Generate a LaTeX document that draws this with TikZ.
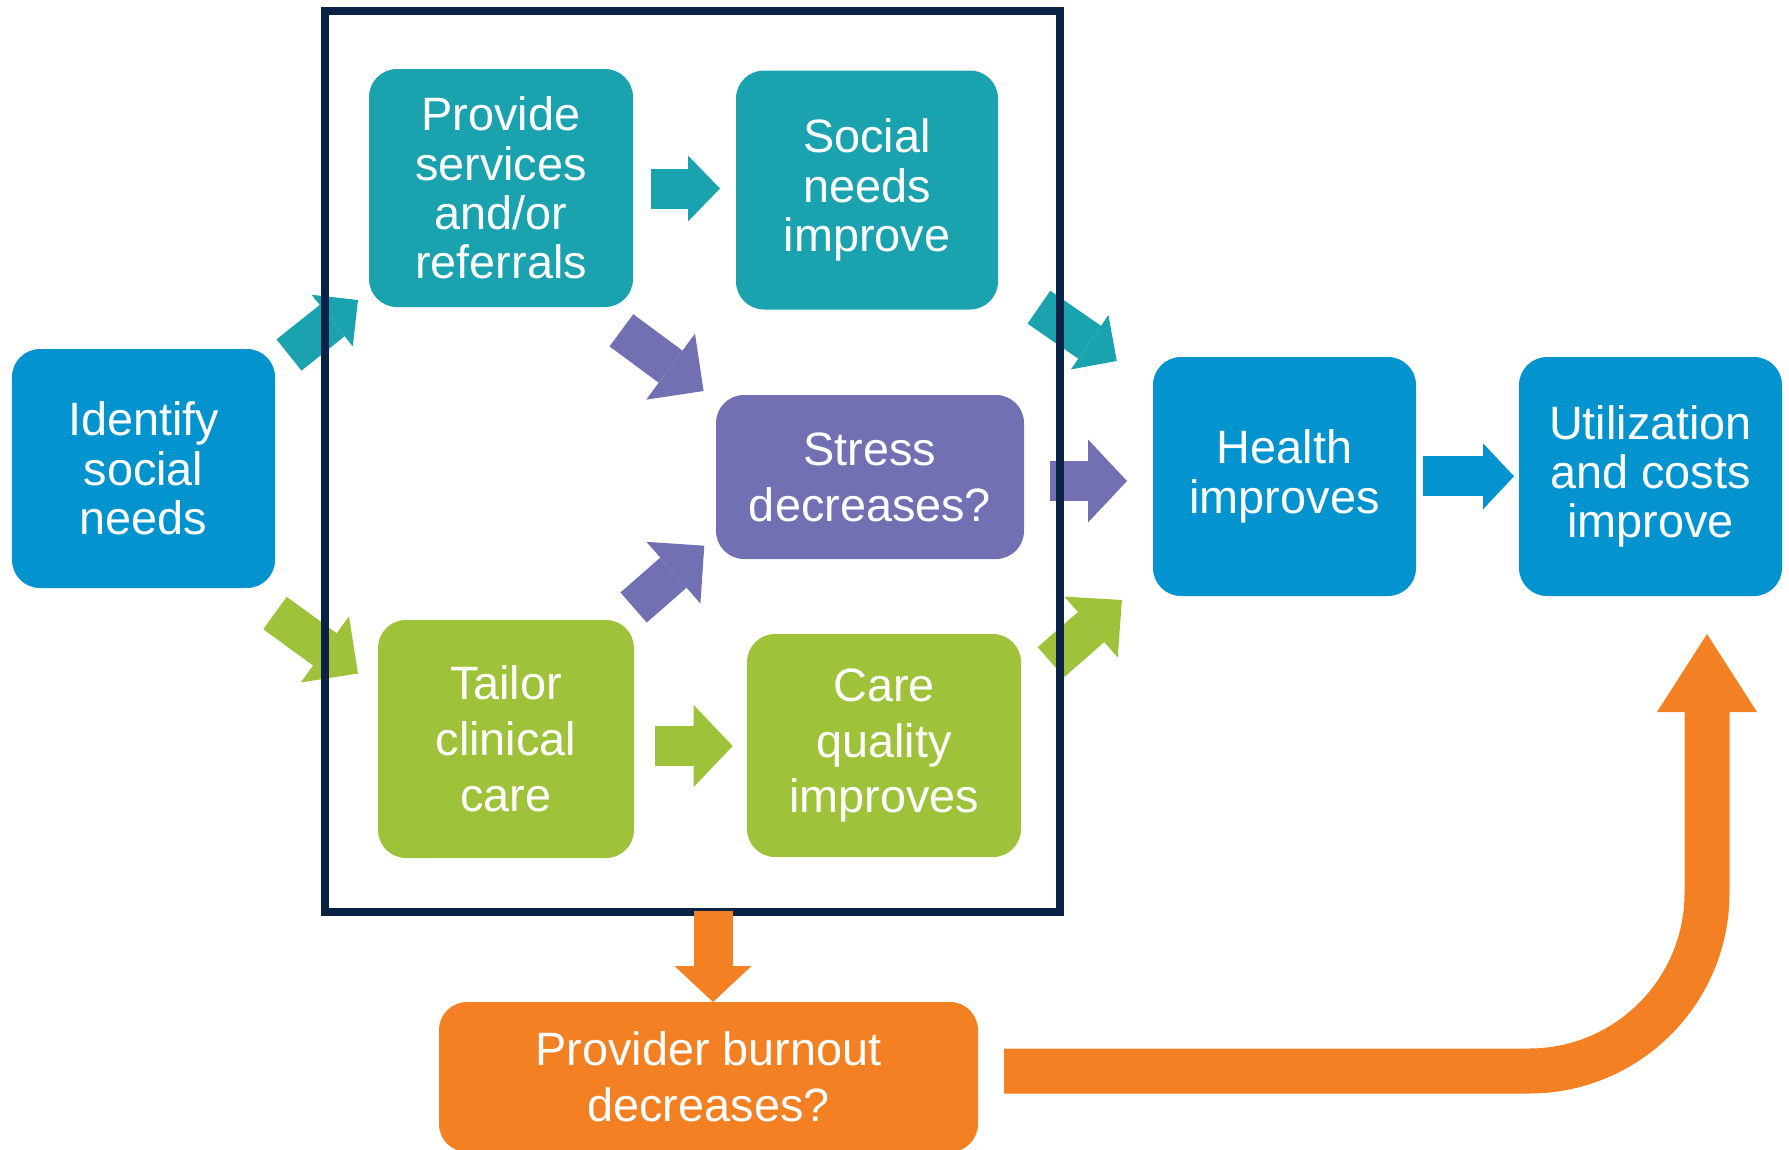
\documentclass[tikz,border=0pt]{standalone}
\usepackage{fontspec}
\setmainfont{Liberation Sans}
\usetikzlibrary{arrows.meta}
\definecolor{cblue}{HTML}{0394CF}
\definecolor{cteal}{HTML}{1AA3AE}
\definecolor{cpurple}{HTML}{7270B3}
\definecolor{cgreen}{HTML}{9EC33B}
\definecolor{corange}{HTML}{F48024}
\definecolor{cnavy}{HTML}{0B2247}
\begin{document}
\begin{tikzpicture}[x=1bp,y=-1bp,
  box/.style={rounded corners=28bp, inner sep=0pt, outer sep=0pt, text=white, align=center,
    font=\fontsize{47}{49.5}\selectfont},
  boxw/.style={box, font=\fontsize{47}{56}\selectfont},
  barr/.style 2 args={line width=40bp, -{Triangle[width=#1, length=#2, line width=0pt]}},
]
\useasboundingbox (0,0) rectangle (1789,1149);

% boxes
\node[box, fill=cblue, minimum width=263bp, minimum height=239bp] (ident) at (143.5,468.5) {Identify\\social\\needs};
\node[box, fill=cteal, minimum width=264bp, minimum height=238bp] (provide) at (501,188) {Provide\\services\\and/or\\referrals};
\node[box, fill=cteal, minimum width=262bp, minimum height=239bp] (social) at (867,190) {Social\\needs\\improve};
\node[boxw, fill=cpurple, minimum width=308bp, minimum height=164bp] (stress) at (870,477) {Stress\\decreases?};
\node[boxw, fill=cgreen, minimum width=256bp, minimum height=238bp] (tailor) at (506,739) {Tailor\\clinical\\care};
\node[boxw, fill=cgreen, minimum width=274bp, minimum height=223bp] (care) at (884,745.5) {Care\\quality\\improves};
\node[box, fill=cblue, minimum width=263bp, minimum height=239bp] (health) at (1284.5,476.5) {Health\\improves};
\node[box, fill=cblue, minimum width=263bp, minimum height=239bp] (util) at (1650.5,476.5) {Utilization\\and costs\\improve};
\node[boxw, fill=corange, minimum width=539bp, minimum height=150bp] (burnout) at (708.5,1077) {Provider burnout\\decreases?};

% arrow end points
\coordinate (a1s) at (289,355);   \coordinate (a1e) at (358,300);
\coordinate (a2s) at (275,613);   \coordinate (a2e) at (358,673.5);
\coordinate (a3s) at (650.5,188.5); \coordinate (a3e) at (720,188.5);
\coordinate (a4s) at (621.4,330.3); \coordinate (a4e) at (703.6,391);
\coordinate (a5s) at (633.6,607.5); \coordinate (a5e) at (704.3,545.7);
\coordinate (a6s) at (1049.7,481); \coordinate (a6e) at (1127,481);
\coordinate (a7s) at (1422.7,476.3); \coordinate (a7e) at (1514,476.3);
\coordinate (a8s) at (655,746); \coordinate (a8e) at (732.7,746);
\coordinate (a9s) at (1038.9,307.2); \coordinate (a9e) at (1116.8,361);
\coordinate (a10s) at (1050.9,662.2); \coordinate (a10e) at (1121.9,600);

\draw[cteal, barr={66bp}{33bp}] (a1s) -- (a1e);
\draw[cgreen, barr={82bp}{41bp}] (a2s) -- (a2e);
\draw[cteal, barr={66bp}{32bp}] (a3s) -- (a3e);
\draw[cpurple, barr={82bp}{41bp}] (a4s) -- (a4e);
\draw[cpurple, barr={82bp}{41bp}] (a5s) -- (a5e);
\draw[cpurple, barr={83bp}{39bp}] (a6s) -- (a6e);
\draw[cblue, barr={66bp}{31bp}] (a7s) -- (a7e);
\draw[cgreen, barr={82bp}{39bp}] (a8s) -- (a8e);
\draw[cteal, barr={66bp}{33bp}] (a9s) -- (a9e);
\draw[cgreen, barr={81bp}{41bp}] (a10s) -- (a10e);

% frame
\node[draw=cnavy, line width=8bp, minimum width=735bp, minimum height=901bp, inner sep=0pt] (frame) at (692.5,461.5) {};

% orange arrows
\coordinate (a11s) at (713,910.7);
\draw[corange, line width=39bp, -{Triangle[width=77bp, length=36bp, line width=0pt]}] (a11s) -- (burnout.north -| a11s);

\coordinate (o1) at ([xshift=26bp]burnout.east |- 0,1071);
\coordinate (o3) at (1707,634);
\draw[corange, line width=45bp, -{Triangle[width=100bp, length=78bp, line width=0pt]}]
  (o1) -- (1529,1071) arc[start angle=90, end angle=0, radius=178] -- (o3);
\end{tikzpicture}
\end{document}
